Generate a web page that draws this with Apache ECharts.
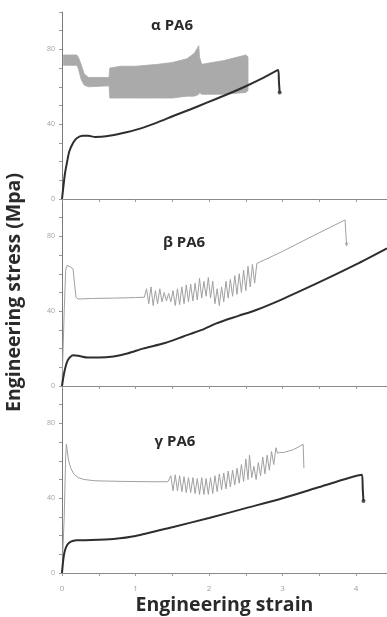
<!DOCTYPE html>
<html>
<head>
<meta charset="utf-8">
<script src="https://cdn.jsdelivr.net/npm/echarts@6/dist/echarts.min.js"></script>
<style>html,body{margin:0;padding:0;background:#fff;}#c{width:387px;height:617px;}</style>
</head>
<body>
<div id="c"></div>
<script>
// ---- data ----
const panelTitles = ['α PA6', 'β PA6', 'γ PA6'];
const xTitle = 'Engineering strain';
const yTitle = 'Engineering stress (Mpa)';
const yLabelValues = [0, 40, 80];
const xLabelValues = [0, 1, 2, 3, 4];

// alpha PA6 – dark curve
const alphaDark = [[0,0],[0.02,7],[0.04,13.5],[0.07,20],[0.1,25.5],[0.15,30],[0.2,32.5],[0.28,33.8],[0.36,33.8],[0.45,33.2],[0.6,33.5],[0.8,35],[1.05,37.5],[1.3,41],[1.52,44.5],[1.75,48],[1.97,51.5],[2.25,56],[2.5,60.3],[2.75,65],[2.94,69],[2.95,63],[2.96,57]];
// alpha PA6 – grey curve, dense oscillation band (lower / upper envelope)
const alphaBandX    = [0.02,0.2,0.22,0.26,0.3,0.36,0.64,0.65,0.8,1.0,1.3,1.5,1.7,1.8,1.86,1.87,1.9,2.2,2.5,2.53];
const alphaBandLow  = [71.5,71.5,70,64,61,60,60.5,54,54,54,54,54,55,55,56,57,56,56,57,58];
const alphaBandHigh = [77,77,76,72,67,65,65,70,71,71,72,73,75,78,82,76,72,74,77,76];

// beta PA6
const betaDark = [[0,0],[0.02,5],[0.04,9],[0.07,13],[0.1,15],[0.15,16.5],[0.22,16.2],[0.35,15.2],[0.5,15.2],[0.7,15.8],[0.9,17.5],[1.1,20],[1.4,23],[1.65,26.5],[1.9,30],[2.1,33.5],[2.4,37.5],[2.65,40.8],[3.0,46.5],[3.5,55.5],[4.0,65],[4.42,73.6]];
const betaGrayStart = [[0,0],[0.03,40],[0.05,62],[0.07,64.5],[0.12,63.5],[0.15,62.5],[0.17,55],[0.19,47.5],[0.22,46.5],[0.4,46.8],[0.7,47],[1.0,47.3],[1.12,47.5]];
const betaGrayBand = [[1.13,47.5],[1.15,52],[1.18,44],[1.21,53],[1.24,43],[1.27,51],[1.30,44],[1.33,52],[1.36,45],[1.39,50],[1.42,45.5],[1.45,49.5],[1.48,45],[1.51,51],[1.54,43],[1.57,52],[1.60,43.5],[1.63,53],[1.66,44],[1.69,54],[1.72,45],[1.75,54.5],[1.78,45.5],[1.81,55],[1.84,46],[1.87,57.5],[1.90,47],[1.93,56],[1.96,48],[1.99,58],[2.02,47],[2.05,56],[2.08,44],[2.11,52],[2.14,43],[2.17,53],[2.20,45],[2.23,56],[2.26,47],[2.29,57],[2.32,48],[2.35,59],[2.38,49],[2.41,60],[2.44,50],[2.47,62],[2.50,51],[2.53,64],[2.56,53],[2.59,65],[2.62,55],[2.65,65.5]];
const betaGrayEnd = [[3.0,72],[3.4,80],[3.85,88.8],[3.86,82],[3.87,75.5]];

// gamma PA6
const gammaDark = [[0,0],[0.02,8],[0.04,12],[0.07,15],[0.12,16.8],[0.2,17.5],[0.4,17.6],[0.7,18.2],[1.0,19.8],[1.5,24.5],[2.0,29.4],[2.5,34.7],[3.0,40],[3.5,46],[3.9,50.8],[4.08,52.5],[4.09,45],[4.1,38.5]];
const gammaGrayStart = [[0,0],[0.03,30],[0.05,62],[0.06,69],[0.07,66],[0.09,60],[0.12,56],[0.16,53],[0.22,51],[0.3,50],[0.45,49.3],[0.8,49],[1.2,48.8],[1.44,48.8]];
const gammaGrayBand = [[1.45,48.5],[1.48,52],[1.51,44],[1.54,52.5],[1.57,44],[1.60,52],[1.63,43.5],[1.66,51.5],[1.69,43],[1.72,51],[1.75,43],[1.78,51],[1.81,42.5],[1.84,50.5],[1.87,42],[1.90,51],[1.93,42],[1.96,50.5],[1.99,42],[2.02,51],[2.05,42.5],[2.08,52],[2.11,43.5],[2.14,53],[2.17,44.5],[2.20,53.5],[2.23,45],[2.26,54.5],[2.29,46],[2.32,55],[2.35,47],[2.38,56],[2.41,48],[2.44,58],[2.47,49],[2.50,61],[2.53,50],[2.55,63],[2.58,51],[2.61,57],[2.64,50],[2.67,59],[2.70,52],[2.73,62],[2.76,53],[2.79,63],[2.82,55],[2.85,65],[2.88,58],[2.91,67],[2.93,64]];
const gammaGrayEnd = [[2.96,64.5],[3.01,64.4],[3.15,66],[3.28,68.8],[3.29,56]];

// ---- chart ----
const DARK = '#2e2e2e', GREY = '#a0a0a0', BAND = '#aaaaaa';
const FONT = '"Open Sans", "DejaVu Sans", sans-serif';
const grids = [
  {left: 62, right: 0, top: 12, height: 187, outerBoundsMode: 'none', containLabel: false},
  {left: 62, right: 0, top: 199, height: 187, outerBoundsMode: 'none', containLabel: false},
  {left: 62, right: 0, top: 386, height: 187, outerBoundsMode: 'none', containLabel: false}
];

const titleStyle = {fontSize: 19.5, fontWeight: 'bold', color: '#2a2a2a', fontFamily: FONT};

const xAxes = grids.map((g, i) => ({
  gridIndex: i, type: 'value', min: 0, max: 4.42, interval: 0.5,
  splitLine: {show: false},
  axisLine: {onZero: false, lineStyle: {color: '#8a8a8a', width: 1}},
  axisTick: {show: true, length: 3, lineStyle: {color: '#9a9a9a'}},
  axisLabel: {
    show: i === 2, margin: 12, fontSize: 8, color: '#a0a0a0', fontFamily: FONT,
    showMaxLabel: false,
    formatter: v => xLabelValues.indexOf(v) >= 0 ? String(v) : ''
  },
  name: i === 2 ? xTitle : '',
  nameLocation: 'middle', nameGap: 22,
  nameTextStyle: titleStyle
}));

const yAxes = grids.map((g, i) => ({
  gridIndex: i, type: 'value', min: 0, max: 100, interval: 10,
  splitLine: {show: false},
  axisLine: {show: true, lineStyle: {color: '#7a7a7a', width: 1}},
  axisTick: {show: true, length: 3, lineStyle: {color: '#9a9a9a'}},
  axisLabel: {
    margin: 7, fontSize: 7, color: '#a0a0a0', fontFamily: FONT,
    formatter: v => yLabelValues.indexOf(v) >= 0 ? String(v) : ''
  },
  name: i === 1 ? yTitle : '',
  nameLocation: 'middle', nameGap: 38, nameRotate: 90,
  nameTextStyle: titleStyle
}));

function lineSeries(idx, data, color, width, smooth, z) {
  return {
    type: 'line', xAxisIndex: idx, yAxisIndex: idx, data: data,
    showSymbol: false, symbol: 'none', smooth: smooth ? 0.25 : false,
    lineStyle: {color: color, width: width}, z: z, animation: false, silent: true
  };
}
function endDot(idx, data, color, symbol, size) {
  return {
    type: 'scatter', xAxisIndex: idx, yAxisIndex: idx,
    data: [data[data.length - 1]], symbol: symbol || 'circle', symbolSize: size || 4,
    itemStyle: {color: color}, z: 6, animation: false, silent: true
  };
}

// alpha band drawn as a polygon between the two envelopes (through the axis scales)
const alphaBandSeries = {
  type: 'custom', xAxisIndex: 0, yAxisIndex: 0, z: 2, animation: false, silent: true,
  data: alphaBandX.map((x, k) => [x, alphaBandLow[k], alphaBandHigh[k]]),
  encode: {x: 0, y: [1, 2]},
  renderItem: function (params, api) {
    if (params.dataIndex !== 0) return null;
    const pts = [];
    for (let k = 0; k < alphaBandX.length; k++) pts.push(api.coord([alphaBandX[k], alphaBandHigh[k]]));
    for (let k = alphaBandX.length - 1; k >= 0; k--) pts.push(api.coord([alphaBandX[k], alphaBandLow[k]]));
    return {
      type: 'polygon', shape: {points: pts},
      style: {fill: BAND, stroke: BAND, lineWidth: 0.8}
    };
  }
};

const series = [
  alphaBandSeries,
  lineSeries(0, alphaDark, DARK, 2, true, 5),
  endDot(0, alphaDark, DARK, 'circle', 4),

  lineSeries(1, betaGrayStart.concat(betaGrayBand, betaGrayEnd), GREY, 1, false, 3),
  lineSeries(1, betaDark, DARK, 2, true, 5),
  endDot(1, betaGrayEnd, GREY, 'triangle', 4),

  lineSeries(2, gammaGrayStart.concat(gammaGrayBand, gammaGrayEnd), GREY, 1, false, 3),
  lineSeries(2, gammaDark, DARK, 2, true, 5),
  endDot(2, gammaDark, DARK, 'circle', 4)
];
series[5].symbolRotate = 180;

const titlePos = [[172, 26], [184, 243], [175, 442]];
const graphic = titlePos.map((p, i) => ({
  type: 'text', x: p[0], y: p[1], z: 10,
  style: {
    text: panelTitles[i], fill: '#2a2a2a',
    fontSize: 15, fontWeight: 'bold', fontFamily: FONT,
    align: 'center', verticalAlign: 'middle'
  }
}));

const chart = echarts.init(document.getElementById('c'), null, {renderer: 'canvas'});
chart.setOption({
  backgroundColor: '#ffffff',
  animation: false,
  grid: grids,
  xAxis: xAxes,
  yAxis: yAxes,
  series: series,
  graphic: graphic
});
</script>
</body>
</html>
